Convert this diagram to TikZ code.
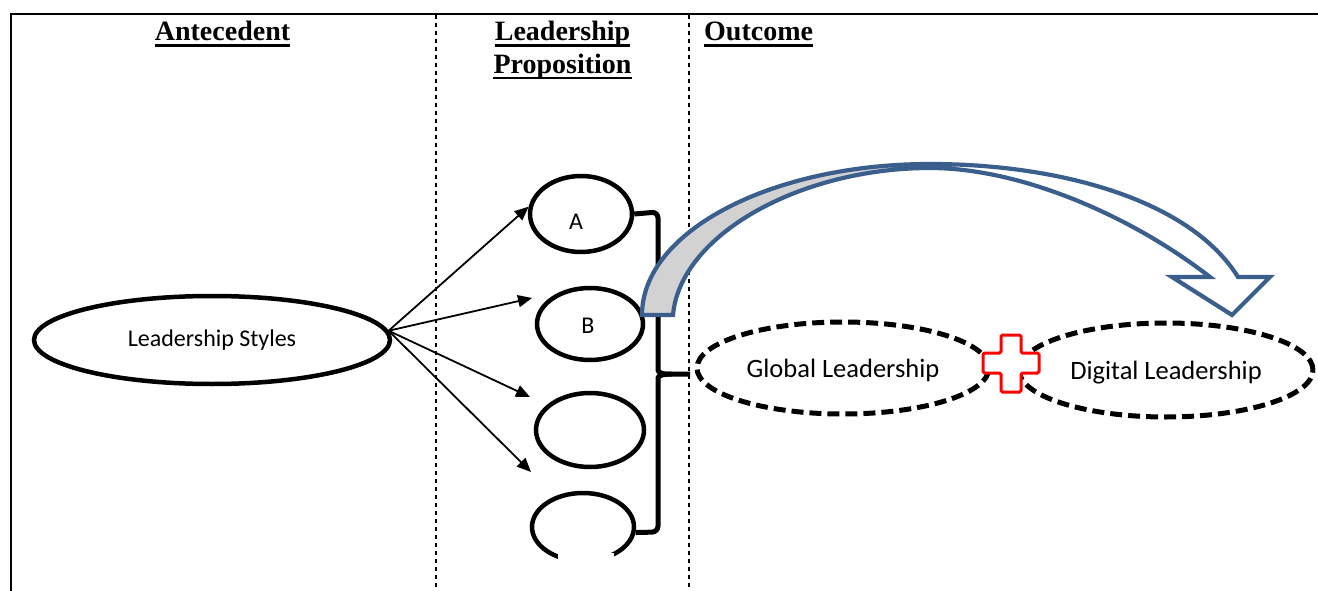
\documentclass[tikz,border=0pt]{standalone}
\usepackage{fontspec}
\setmainfont{Liberation Serif}
\newfontfamily\bodyfont{Carlito}
\usetikzlibrary{shapes.geometric,arrows.meta,calc}

\definecolor{arrowblue}{RGB}{58,95,141}
\definecolor{ribbongray}{RGB}{210,210,210}
\definecolor{plusred}{RGB}{255,0,0}

\begin{document}
\begin{tikzpicture}[x=1pt,y=-1pt,
  frame/.style={line width=2pt},
  divider/.style={line width=2.8pt, dash pattern=on 4pt off 4pt},
  heading/.style={font=\fontsize{28}{33}\selectfont\bfseries, inner sep=0pt, anchor=base},
  uline/.style={line width=2.5pt},
  styleoval/.style={ellipse, draw, line width=4.5pt, inner sep=0pt,
    font=\bodyfont\fontsize{24}{28}\selectfont},
  prop/.style={ellipse, draw, line width=4.5pt, inner sep=0pt},
  proplabel/.style={inner sep=0pt, font=\bodyfont\fontsize{24}{28}\selectfont},
  outcome/.style={ellipse, draw, line width=5pt, dash pattern=on 12pt off 6pt,
    inner sep=0pt, text depth=0pt, font=\bodyfont\fontsize{26.5}{30}\selectfont},
  link/.style={line width=1.8pt, -{Triangle[length=14pt,width=12pt]}},
  brace/.style={line width=5pt, rounded corners=6pt},
  ribbon/.style={draw=arrowblue, line width=4.2pt, line join=miter},
  plus/.style={draw=plusred, fill=white, line width=3pt, rounded corners=1.5pt}]

\useasboundingbox (0,0) rectangle (1318,591);

% frame and column dividers
\draw[frame] (11,591) -- (11,14) -- (1318,14);
\draw[divider] (436,15) -- (436,591);
\draw[divider] (689,15) -- (689,591);

% column headings
\node[heading] (hAnte) at (222.5,41) {Antecedent};
\node[heading] (hLead) at (562.5,41) {Leadership};
\node[heading] (hProp) at (562.5,73.5) {Proposition};
\node[heading, anchor=base west] (hOut) at (704,41) {Outcome};
\foreach \h in {hAnte,hLead,hProp,hOut}
  \draw[uline] ($(\h.base west)+(0,4.5)$) -- ($(\h.base east)+(0,4.5)$);

% antecedent
\node[styleoval, minimum width=356pt, minimum height=88pt] (ls) at (212,340) {Leadership Styles};

% propositions
\node[prop, minimum width=102pt, minimum height=76pt] (pa) at (581,214) {};
\node[prop, minimum width=106pt, minimum height=72pt] (pb) at (590,324) {};
\node[prop, minimum width=108pt, minimum height=74pt] (pc) at (590,430) {};
\node[prop, minimum width=102pt, minimum height=68pt] (pd) at (583,527) {};
\fill[white] (558,553) rectangle (614,567);
\node[proplabel] (la) at (576,222) {A};
\node[proplabel] (lb) at (588,326) {B};

% links from the antecedent
\coordinate (tipB) at (532,298);
\coordinate (tipC) at (530,397);
\coordinate (tipD) at (531,472);
\draw[link] (ls.3) -- (pa.172);
\draw[link] (ls.3) -- (tipB);
\draw[link] (ls.3) -- (tipC);
\draw[link] (ls.3) -- (tipD);

% outcomes
\node[outcome, minimum width=292pt, minimum height=92pt] (gl) at (843,368) {Global Leadership};
\node[outcome, minimum width=294pt, minimum height=94pt] (dl) at (1166,370) {Digital Leadership};

% bracket gathering the propositions
\draw[brace] (pa.east) -- (658,212) -- (658,364)
  .. controls (658,372) and (662,374) .. (672,374) -- (690,374);
\draw[brace] (pd.-6) -- (658,532) -- (658,384)
  .. controls (658,376) and (662,374) .. (672,374);

% plus sign between the outcomes
\draw[plus] (1001,335) -- (1021,335) -- (1021,353) -- (1039,353) -- (1039,373)
  -- (1021,373) -- (1021,392) -- (1001,392) -- (1001,373) -- (983,373)
  -- (983,353) -- (1001,353) -- cycle;

% curved ribbon arrow
\fill[ribbongray] (642,315) .. controls (642,231.6) and (771,164) .. (930,164)
  -- (930,168) .. controls (800,168) and (680,235) .. (673,315) -- cycle;
\draw[ribbon] (642,315) .. controls (642,231.6) and (771,164) .. (930,164)
  .. controls (1060,164) and (1190,200) .. (1238,277)
  -- (1270,277) -- (1232,315) -- (1172,277) -- (1210,277)
  .. controls (1130,215) and (1020,168) .. (930,168)
  .. controls (800,168) and (680,235) .. (673,315) -- cycle;
\end{tikzpicture}
\end{document}
